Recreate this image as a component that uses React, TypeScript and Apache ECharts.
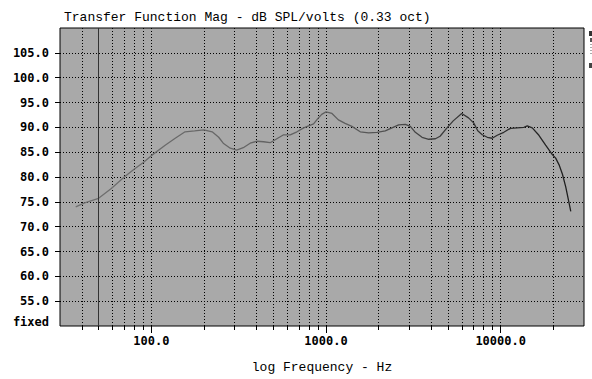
import React, { useEffect, useRef } from 'react';
import * as echarts from 'echarts';

// Frequency response (Hz, dB SPL/volts)
const freqs = [
  36.9, 41.5, 49.9, 59, 70, 80, 90, 100, 120, 137, 156, 177, 200, 223, 243, 258, 283, 308,
  336, 368, 402, 439, 479, 523, 572, 624, 682, 745, 849, 900, 945, 1000, 1082, 1178, 1287,
  1407, 1570, 1754, 1958, 2185, 2386, 2606, 2847, 3040, 3247, 3548, 3874, 4231, 4500, 4900,
  5349, 5984, 6548, 7004, 7393, 7842, 8384, 8943, 9554, 10421, 11383, 12429, 13578, 14200,
  15170, 16557, 18088, 19764, 20650, 21570, 22560, 23580, 24630, 25200,
];
const dbs = [
  74.0, 74.8, 75.7, 77.7, 80.0, 81.6, 82.9, 84.3, 86.4, 87.8, 89.1, 89.3, 89.5, 89.1, 88.0, 86.8, 85.8, 85.4,
  85.9, 86.8, 87.2, 87.1, 86.9, 87.7, 88.5, 88.5, 89.1, 89.9, 90.7, 91.8, 92.6, 93.1, 92.8, 91.5, 90.8,
  90.2, 89.1, 88.9, 89.0, 89.3, 89.9, 90.5, 90.6, 90.2, 89.0, 88.0, 87.6, 87.7, 88.2, 89.8,
  91.3, 92.8, 91.9, 90.9, 89.3, 88.5, 88.0, 87.8, 88.4, 89.0, 89.8, 89.9, 90.0, 90.3,
  89.9, 88.4, 86.4, 84.5, 83.8, 82.5, 80.6, 78.0, 74.8, 73.1,
];

const xTicks = [
  40, 50, 60, 70, 80, 90, 100, 200, 300, 400, 500, 600, 700, 800, 900,
  1000, 2000, 3000, 4000, 5000, 6000, 7000, 8000, 9000, 10000, 20000,
];
const xMajorTicks = [100, 1000, 10000];
const xLabels = [100, 1000, 10000];
const cursorFreqs = [50];
const yTicks = [55, 60, 65, 70, 75, 80, 85, 90, 95, 100, 105];
const yLabels = [50, 55, 60, 65, 70, 75, 80, 85, 90, 95, 100, 105];
const titleText = 'Transfer Function Mag - dB SPL/volts (0.33 oct)';
const xName = 'log Frequency - Hz';
const fixedLabel = 'fixed';

const labelFont = 'DejaVu Sans Mono';
const titleFont = 'Liberation Mono';

export default function App() {
  const ref = useRef<HTMLDivElement>(null);
  useEffect(() => {
    const chart = echarts.init(ref.current!, null, { renderer: 'svg', width: 592, height: 379 });
    const data = freqs.map((f, i) => [f, dbs[i]]);
    chart.setOption({
      animation: false,
      backgroundColor: '#ffffff',
      title: {
        text: titleText,
        left: 64,
        top: 11,
        padding: 0,
        textStyle: { fontFamily: titleFont, fontSize: 13, fontWeight: 'normal', color: '#000' },
      },
      grid: {
        left: 60,
        top: 28,
        width: 524,
        height: 309,
        show: true,
        backgroundColor: '#a9a9a9',
        borderColor: '#000',
        borderWidth: 1,
      },
      xAxis: [
        {
          type: 'log',
          logBase: 10,
          min: 30,
          max: 30000,
          axisLine: { show: false },
          axisTick: { show: true, length: 4, customValues: xTicks, lineStyle: { color: '#000', width: 1 } },
          minorTick: { show: false },
          axisLabel: {
            customValues: xLabels,
            formatter: (v: number) => Number(v).toFixed(1),
            fontFamily: labelFont,
            fontSize: 12,
            fontWeight: 'bold',
            color: '#000',
            margin: 9,
          },
          splitLine: { show: true, lineStyle: { color: '#000', type: [1, 2], width: 1 } },
          name: xName,
          nameLocation: 'middle',
          nameGap: 35,
          nameTextStyle: { fontFamily: titleFont, fontSize: 13, color: '#000' },
        },
        {
          type: 'log',
          logBase: 10,
          min: 30,
          max: 30000,
          position: 'bottom',
          axisLine: { show: false },
          axisTick: { show: true, length: 7, customValues: xMajorTicks, lineStyle: { color: '#000', width: 1 } },
          minorTick: { show: false },
          axisLabel: { show: false },
          splitLine: { show: false },
        },
      ],
      yAxis: {
        type: 'value',
        min: 50,
        max: 110,
        interval: 5,
        axisLine: { show: false },
        axisTick: { show: true, length: 5, customValues: yTicks, lineStyle: { color: '#000', width: 1 } },
        axisLabel: {
          customValues: yLabels,
          formatter: (v: number) => (v === 50 ? '{f|' + fixedLabel + '}' : Number(v).toFixed(1)),
          fontFamily: labelFont,
          fontSize: 12,
          fontWeight: 'bold',
          color: '#000',
          margin: 11,
          rich: {
            f: { fontFamily: labelFont, fontSize: 12, fontWeight: 'bold', color: '#000', padding: [0, 0, 8, 0] },
          },
        },
        splitLine: { show: true, lineStyle: { color: '#000', type: [1, 2], width: 1 } },
      },
      graphic: [
        { type: 'rect', shape: { x: 589, y: 31, width: 3, height: 5 }, style: { fill: '#333' } },
        { type: 'rect', shape: { x: 590, y: 38, width: 2, height: 4 }, style: { fill: '#555' } },
        { type: 'line', shape: { x1: 591, y1: 44, x2: 591, y2: 56 }, style: { stroke: '#555', lineDash: [1, 2] } },
        { type: 'rect', shape: { x: 589, y: 63, width: 3, height: 5 }, style: { fill: '#444' } },
      ],
      series: [
        {
          type: 'line',
          xAxisIndex: 0,
          data,
          symbol: 'none',
          showSymbol: false,
          lineStyle: {
            width: 1.3,
            color: new echarts.graphic.LinearGradient(0, 0, 1, 0, [
              { offset: 0, color: '#707070' },
              { offset: 0.55, color: '#5e5e5e' },
              { offset: 0.75, color: '#3a3a3a' },
              { offset: 1, color: '#1e1e1e' },
            ]),
          },
          markLine: {
            silent: true,
            symbol: 'none',
            label: { show: false },
            lineStyle: { color: '#333', type: 'solid', width: 1 },
            data: cursorFreqs.map((f) => ({ xAxis: f })),
          },
        },
      ],
    });
    return () => chart.dispose();
  }, []);
  return (
    <div
      ref={ref}
      style={{ position: 'fixed', left: 0, top: 0, width: 592, height: 379, background: '#fff' }}
    />
  );
}
